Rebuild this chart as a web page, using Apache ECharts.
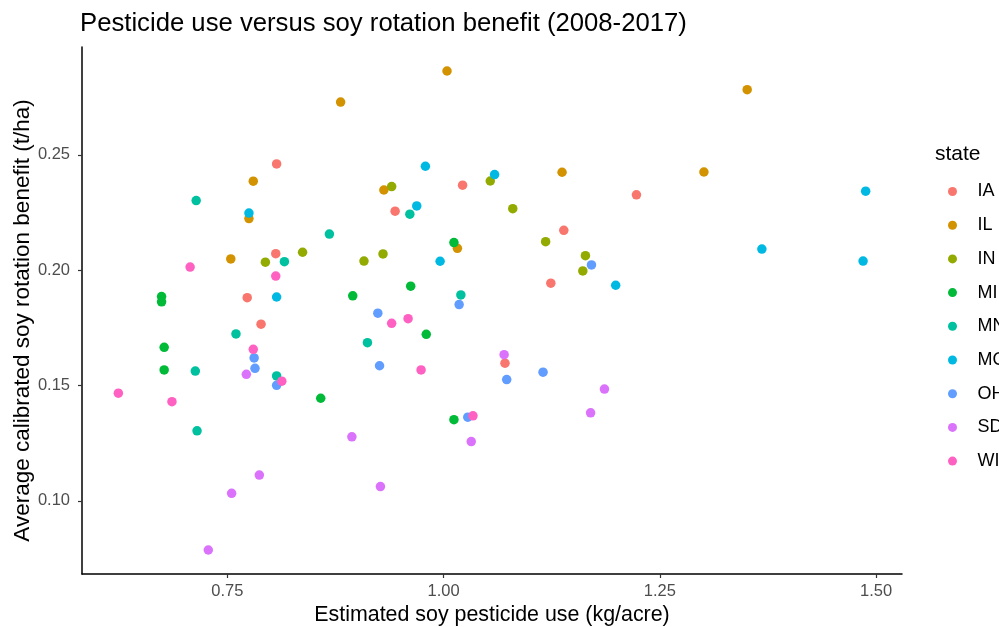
<!DOCTYPE html>
<html>
<head>
<meta charset="utf-8">
<script src="https://cdn.jsdelivr.net/npm/echarts@6/dist/echarts.min.js"></script>
<style>
  html, body { margin: 0; padding: 0; background: #fff; }
  #chart { width: 999px; height: 627px; }
</style>
</head>
<body>
<div id="chart"></div>
<script>
// states and their colours (ggplot default hue palette)
var states = ['IA', 'IL', 'IN', 'MI', 'MN', 'MO', 'OH', 'SD', 'WI'];
var stateColors = ['#F8766D', '#D39200', '#93AA00', '#00BA38', '#00C19F', '#00B9E3', '#619CFF', '#DB72FB', '#FF61C3'];

// pesticide use (kg/acre) per state
var useIA = [0.807, 0.806, 0.773, 0.789, 1.022, 0.944, 1.223, 1.139, 1.124, 1.071];
var useIL = [0.881, 0.780, 0.775, 0.754, 1.004, 0.931, 1.137, 1.016, 1.351, 1.301];
var useIN = [0.837, 0.794, 0.908, 0.940, 1.054, 1.080, 1.118, 0.930, 1.164, 1.161];
var useMI = [0.674, 0.674, 0.677, 0.677, 0.895, 0.858, 1.012, 0.962, 0.980, 1.012];
var useMN = [0.714, 0.868, 0.816, 0.760, 0.912, 0.713, 0.807, 0.715, 0.961, 1.020];
var useMO = [0.775, 0.807, 0.979, 1.059, 0.969, 0.996, 1.199, 1.488, 1.368, 1.485];
var useOH = [0.924, 0.781, 0.782, 0.807, 0.926, 1.018, 1.171, 1.073, 1.115, 1.028];
var useSD = [0.772, 0.894, 0.787, 0.755, 0.728, 0.927, 1.070, 1.186, 1.170, 1.032];
var useWI = [0.707, 0.806, 0.780, 0.813, 0.624, 0.686, 0.940, 0.959, 0.974, 1.034];

// average calibrated soy rotation benefit (t/ha), same order
var benIA = [0.2461, 0.2072, 0.1881, 0.1766, 0.2369, 0.2256, 0.2327, 0.2173, 0.1944, 0.1597];
var benIL = [0.2729, 0.2386, 0.2224, 0.2049, 0.2864, 0.2348, 0.2425, 0.2095, 0.2783, 0.2426];
var benIN = [0.2078, 0.2035, 0.2040, 0.2363, 0.2387, 0.2267, 0.2124, 0.2071, 0.2063, 0.1997];
var benMI = [0.1886, 0.1863, 0.1666, 0.1568, 0.1889, 0.1445, 0.2120, 0.1931, 0.1722, 0.1352];
var benMN = [0.2302, 0.2157, 0.2037, 0.1724, 0.1686, 0.1563, 0.1542, 0.1304, 0.2243, 0.1893];
var benMO = [0.2248, 0.1884, 0.2451, 0.2415, 0.2279, 0.2039, 0.1935, 0.2343, 0.2092, 0.2040];
var benOH = [0.1814, 0.1620, 0.1575, 0.1501, 0.1586, 0.1851, 0.2023, 0.1526, 0.1558, 0.1363];
var benSD = [0.1549, 0.1278, 0.1112, 0.1033, 0.0787, 0.1062, 0.1634, 0.1485, 0.1382, 0.1257];
var benWI = [0.2014, 0.1975, 0.1657, 0.1519, 0.1467, 0.1430, 0.1770, 0.1790, 0.1568, 0.1369];

var xTicks = [0.75, 1.00, 1.25, 1.50];
var yTicks = [0.10, 0.15, 0.20, 0.25];

var useAll = [useIA, useIL, useIN, useMI, useMN, useMO, useOH, useSD, useWI];
var benAll = [benIA, benIL, benIN, benMI, benMN, benMO, benOH, benSD, benWI];

var font = '"Liberation Sans", Arial, Helvetica, sans-serif';

var series = [];
for (let i = 0; i < states.length; i++) {
  let pts = [];
  for (let j = 0; j < useAll[i].length; j++) {
    pts.push([useAll[i][j], benAll[i][j]]);
  }
  series.push({
    name: states[i],
    type: 'scatter',
    data: pts,
    symbolSize: 9.5,
    itemStyle: { color: stateColors[i], opacity: 1 },
    emphasis: { disabled: true }
  });
}

var chartDom = document.getElementById('chart');
var myChart = echarts.init(chartDom, null, { renderer: 'canvas' });

var option = {
  animation: false,
  textStyle: { fontFamily: font },
  title: [
    {
      text: 'Pesticide use versus soy rotation benefit (2008-2017)',
      left: 75,
      top: 6,
      textStyle: { fontFamily: font, fontSize: 25.7, fontWeight: 'normal', color: '#000' }
    },
    {
      text: 'state',
      left: 930,
      top: 139,
      textStyle: { fontFamily: font, fontSize: 21, fontWeight: 'normal', color: '#000' }
    }
  ],
  legend: {
    data: states,
    orient: 'vertical',
    left: 943,
    top: 177.5,
    icon: 'circle',
    itemWidth: 40,
    itemHeight: 9,
    itemGap: 15.7,
    selectedMode: false,
    textStyle: { fontFamily: font, fontSize: 18, lineHeight: 18, color: '#000' }
  },
  grid: {
    left: 82,
    right: 97,
    top: 47,
    bottom: 53,
    outerBoundsMode: 'none'
  },
  xAxis: {
    type: 'value',
    min: 0.582,
    max: 1.530,
    name: 'Estimated soy pesticide use (kg/acre)',
    nameLocation: 'middle',
    nameGap: 31,
    nameMoveOverlap: false,
    nameTextStyle: { fontFamily: font, fontSize: 21.4, color: '#000' },
    axisLine: { show: true, onZero: false, lineStyle: { color: '#000', width: 1.5 } },
    axisTick: { show: true, customValues: xTicks, length: 4, lineStyle: { color: '#333', width: 1.2 } },
    axisLabel: {
      customValues: xTicks,
      margin: 9,
      fontFamily: font,
      fontSize: 16.5,
      color: '#4d4d4d',
      formatter: function (v) { return v.toFixed(2); }
    },
    splitLine: { show: false }
  },
  yAxis: {
    type: 'value',
    min: 0.0683,
    max: 0.2968,
    name: 'Average calibrated soy rotation benefit (t/ha)',
    nameLocation: 'middle',
    nameGap: 48,
    nameMoveOverlap: false,
    nameTextStyle: { fontFamily: font, fontSize: 22.5, color: '#000', padding: [0, 20, 0, 0] },
    axisLine: { show: true, onZero: false, lineStyle: { color: '#000', width: 1.5 } },
    axisTick: { show: true, customValues: yTicks, length: 4, lineStyle: { color: '#333', width: 1.2 } },
    axisLabel: {
      customValues: yTicks,
      margin: 12,
      fontFamily: font,
      fontSize: 16.5,
      color: '#4d4d4d',
      formatter: function (v) { return v.toFixed(2); }
    },
    splitLine: { show: false }
  },
  series: series
};

option && myChart.setOption(option);
</script>
</body>
</html>
